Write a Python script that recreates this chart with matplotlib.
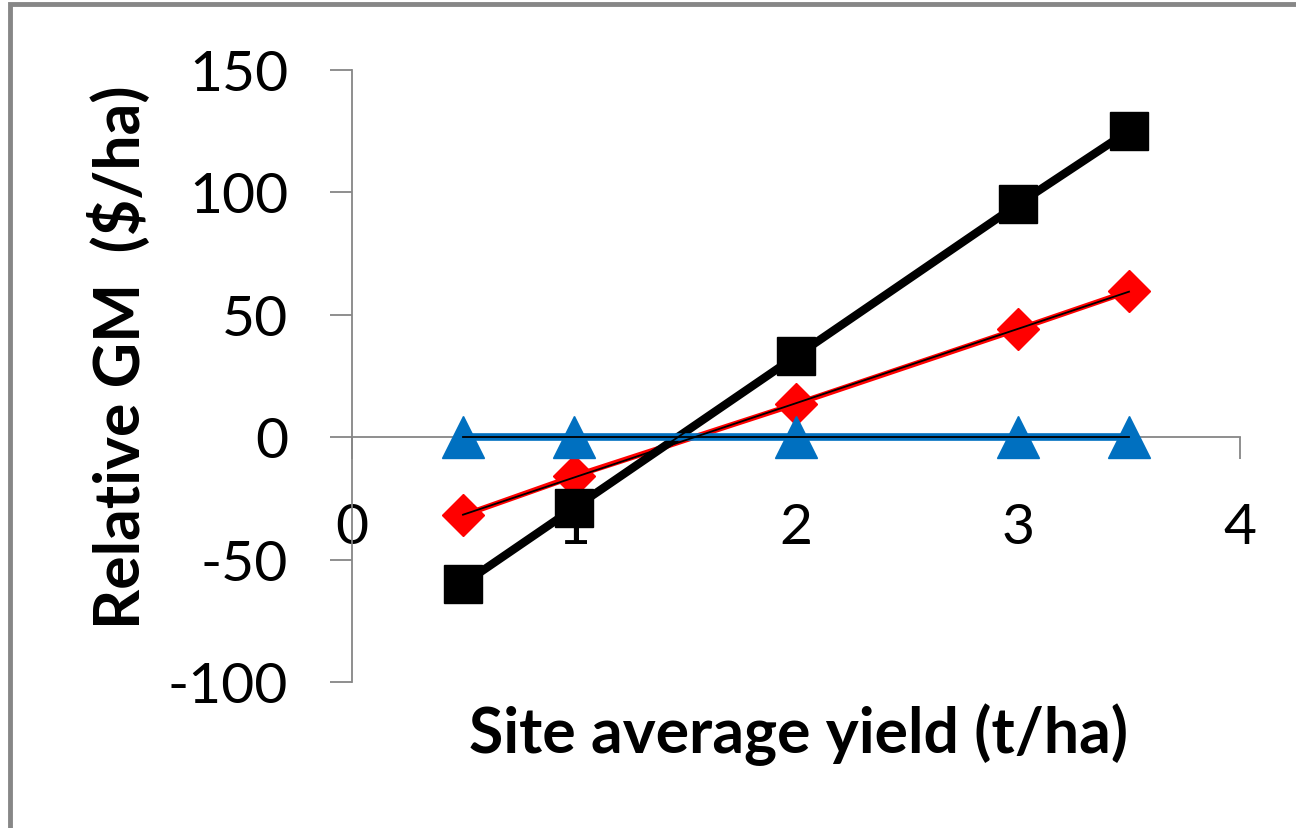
import numpy as np
import matplotlib
matplotlib.use('Agg')
import matplotlib.pyplot as plt
from matplotlib.patches import Rectangle

plt.rcParams['font.family'] = ['Lato', 'DejaVu Sans']
plt.rcParams['axes.unicode_minus'] = False

# site average yield (t/ha)
yields = [0.5, 1, 2, 3, 3.5]
# relative gross margin ($/ha) per series
gm_black = [-60, -29, 33, 95, 125]
gm_red = [-32, -16, 13.5, 44, 59.5]
gm_blue = [0, 0, 0, 0, 0]

x_ticks = [0, 1, 2, 3, 4]
y_ticks = [-100, -50, 0, 50, 100, 150]

fig = plt.figure(figsize=(12.96, 8.29), dpi=100)
ax = fig.add_axes([352 / 1296, 1 - 683 / 829, (1240 - 352) / 1296, (683 - 70.5) / 829])

# series: red under black under blue
ax.plot(yields, gm_red, color='#ff0000', lw=4, marker='D', ms=21, zorder=3)
ax.plot(yields, gm_black, color='black', lw=6, marker='s', ms=28, zorder=4)
ax.plot(yields, gm_blue, color='#0070c0', lw=5.5, marker='^', ms=30, zorder=5)

# linear trendlines on top
xs = np.array([yields[0], yields[-1]])
for series in (gm_black, gm_red, gm_blue):
    k, b = np.polyfit(yields, series, 1)
    ax.plot(xs, k * xs + b, color='black', lw=1.3, zorder=6)

ax.set_xlim(0, 4)
ax.set_ylim(-100, 150)
ax.set_xticks(x_ticks)
ax.set_yticks(y_ticks)

grey = '#868686'
ax.spines['left'].set_position(('data', 0))
ax.spines['bottom'].set_position(('data', 0))
ax.spines['right'].set_visible(False)
ax.spines['top'].set_visible(False)
for s in ('left', 'bottom'):
    ax.spines[s].set_color(grey)
    ax.spines[s].set_linewidth(1.3)
    ax.spines[s].set_zorder(2)

ax.tick_params(axis='x', direction='out', length=16, width=1.3, color=grey,
               pad=31, labelsize=41)
ax.tick_params(axis='y', direction='out', length=16, width=1.3, color=grey,
               pad=30, labelsize=41)

fig.text(799 / 1296, 1 - 735 / 829, 'Site average yield (t/ha)', fontsize=45,
         fontweight='bold', ha='center', va='center')
fig.text(120 / 1296, 1 - 357 / 829, 'Relative GM  ($/ha)', fontsize=45,
         fontweight='bold', ha='center', va='center', rotation=90)

# outer chart border (only top and left visible in the crop)
fig.patches.append(Rectangle((10 / 1296, -0.1), 1.2, 0.1 + 1 - 5 / 829,
                             transform=fig.transFigure, fill=False,
                             edgecolor='#878787', lw=3.5))

fig.savefig('out.png', dpi=100)
